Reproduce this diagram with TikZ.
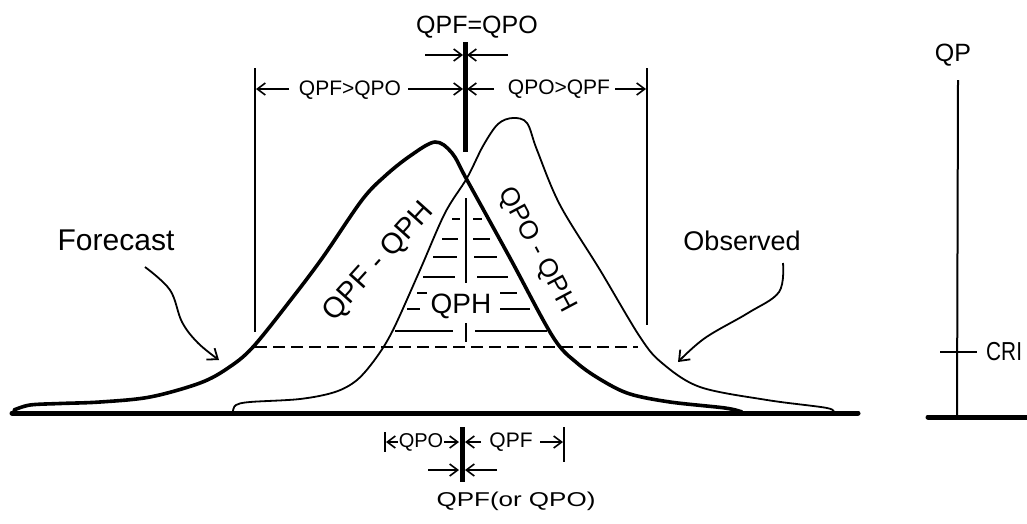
\documentclass[tikz,border=0pt]{standalone}
\usepackage{fontspec}
\setmainfont{Liberation Sans}
\usetikzlibrary{arrows.meta}
\begin{document}
\begin{tikzpicture}[x=1pt,y=-1pt,
  barb/.style={-{Straight Barb[length=8pt,width=12pt]}, line width=1.6pt},
  base/.style={line width=5pt, line cap=round},
  bar/.style={line width=5pt},
  dimline/.style={line width=2.2pt},
  hatch/.style={line width=2pt},
  fcurve/.style={line width=3.6pt, line join=round, line cap=round},
  ocurve/.style={line width=1.8pt, line join=round, line cap=round},
  txt/.style={inner sep=0pt},
  pointer/.style={line width=1.8pt, -{Straight Barb[length=9pt,width=14pt]}}]
\useasboundingbox (0,0) rectangle (1027,523);

% ground line
\coordinate (b0) at (12,413); \coordinate (b1) at (858,413);
\draw[base] (b0) -- (b1);

% right axis
\coordinate (a0) at (928,417); \coordinate (a1) at (1032,417);
\draw[base] (a0) -- (a1);
\coordinate (ax0) at (957,417); \coordinate (ax1) at (958,80);
\draw[line width=2pt] (ax0) -- (ax1);
\coordinate (tk0) at (940,352); \coordinate (tk1) at (977,352);
\draw[line width=2pt] (tk0) -- (tk1);
\node[txt, font=\fontsize{25}{30}\selectfont] (qp) at (953,55) {QP};
\node[txt, anchor=west, font=\fontsize{26}{30}\selectfont] (cri) at (986,352) {\scalebox{0.8}[1]{CRI}};

% curves
\draw[fcurve] plot[smooth, tension=0.55] coordinates {(14,410) (30,405) (60,403.5) (100,402) (150,397) (200,383) (228,368) (253,347) (293,297) (323,257) (362,200) (385,176) (410,156) (435,142) (452,153) (467,180) (510,258) (553,337) (577,363) (603,381) (630,394) (670,402) (725,408) (742,412)};
\draw[ocurve] plot[smooth, tension=0.55] coordinates {(233,411) (236,405) (250,402) (300,399) (335,392) (357,380) (376,358) (393,330) (420,270) (445,213) (467,178) (483,146) (498,124) (513,118) (527,123) (537,150) (560,205) (600,270) (640,337) (662,363) (700,387) (767,400) (827,408) (833,413)};

% vertical dimension lines
\coordinate (dl0) at (255,68); \coordinate (dl1) at (255,332);
\coordinate (dr0) at (647,68); \coordinate (dr1) at (647,325);
\draw[dimline] (dl0) -- (dl1);
\draw[dimline] (dr0) -- (dr1);

% dashed line
\coordinate (ds0) at (255,347); \coordinate (ds1) at (638,347);
\draw[line width=2.2pt, dash pattern=on 12pt off 6pt] (ds0) -- (ds1);

% centre top bar
\coordinate (c0) at (465,42); \coordinate (c1) at (465,152);
\draw[bar] (c0) -- (c1);
\node[txt, font=\fontsize{25}{30}\selectfont] (eq) at (477,27) {QPF=QPO};
\coordinate (ta0) at (425,55); \coordinate (ta1) at (463,55);
\coordinate (tb0) at (508,55); \coordinate (tb1) at (467,55);
\draw[barb] (ta0) -- (ta1);
\draw[barb] (tb0) -- (tb1);

% dimension row
\node[txt, font=\fontsize{21}{25}\selectfont] (gt1) at (350,90) {QPF>QPO};
\node[txt, font=\fontsize{21}{25}\selectfont] (gt2) at (559,89) {QPO>QPF};
\coordinate (g1a) at (289,89); \coordinate (g1b) at (256,89);
\coordinate (g1c) at (408,89); \coordinate (g1d) at (463,89);
\coordinate (g2a) at (494,89); \coordinate (g2b) at (467,89);
\coordinate (g2c) at (615,89); \coordinate (g2d) at (646,89);
\draw[barb] (g1a) -- (g1b);
\draw[barb] (g1c) -- (g1d);
\draw[barb] (g2a) -- (g2b);
\draw[barb] (g2c) -- (g2d);

% hatching
\foreach \y/\la/\lb/\ra/\rb in {219/452/460/473/482, 239/442/458/473/490, 257/433/457/474/497, 277/423/455/477/508, 293/417/427/500/517, 309/407/420/500/530, 331/395/453/475/547}{
  \draw[hatch] (\la,\y) -- (\lb,\y);
  \draw[hatch] (\ra,\y) -- (\rb,\y);
}
\coordinate (hv0) at (466,198); \coordinate (hv1) at (466,283);
\coordinate (hv2) at (466,323); \coordinate (hv3) at (466,342);
\draw[hatch] (hv0) -- (hv1);
\draw[hatch] (hv2) -- (hv3);
\node[txt, font=\fontsize{28}{32}\selectfont] (qph) at (461,306) {QPH};

% rotated labels
\node[txt, rotate=48, font=\fontsize{29}{34}\selectfont] (fq) at (379,262) {QPF - QPH};
\node[txt, rotate=-62, font=\fontsize{26}{30}\selectfont] (oq) at (537,250) {QPO - QPH};

% Forecast / Observed labels and pointers
\node[txt, font=\fontsize{30}{34}\selectfont] (fc) at (116,240) {Forecast};
\node[txt, font=\fontsize{27}{32}\selectfont] (ob) at (742,241) {Observed};
\draw[pointer] plot[smooth, tension=0.6] coordinates {(145,267) (170,290) (182,322) (198,343) (219,360)};
\draw[pointer] plot[smooth, tension=0.6] coordinates {(783,263) (779,292) (748,313) (705,338) (678,362)};

% bottom dimension
\coordinate (bc0) at (462,427); \coordinate (bc1) at (462,482);
\draw[bar] (bc0) -- (bc1);
\coordinate (bl0) at (385,432); \coordinate (bl1) at (385,452);
\draw[line width=2pt] (bl0) -- (bl1);
\coordinate (br0) at (564,427); \coordinate (br1) at (564,462);
\draw[line width=2pt] (br0) -- (br1);
\node[txt, font=\fontsize{20}{24}\selectfont] (qpo) at (421,442) {QPO};
\node[txt, font=\fontsize{21}{25}\selectfont] (qpf) at (511,442) {QPF};
\coordinate (r1a) at (398,442); \coordinate (r1b) at (386,442);
\coordinate (r1c) at (444,442); \coordinate (r1d) at (459,442);
\coordinate (r1e) at (481,442); \coordinate (r1f) at (465,442);
\coordinate (r1g) at (540,442); \coordinate (r1h) at (563,442);
\draw[barb] (r1a) -- (r1b);
\draw[barb] (r1c) -- (r1d);
\draw[barb] (r1e) -- (r1f);
\draw[barb] (r1g) -- (r1h);
\coordinate (r2a) at (428,470); \coordinate (r2b) at (459,470);
\coordinate (r2c) at (497,470); \coordinate (r2d) at (465,470);
\draw[barb] (r2a) -- (r2b);
\draw[barb] (r2c) -- (r2d);
\node[txt, font=\fontsize{20}{24}\selectfont] (orq) at (516,501) {\scalebox{1.3}[1]{QPF(or QPO)}};
\end{tikzpicture}
\end{document}
